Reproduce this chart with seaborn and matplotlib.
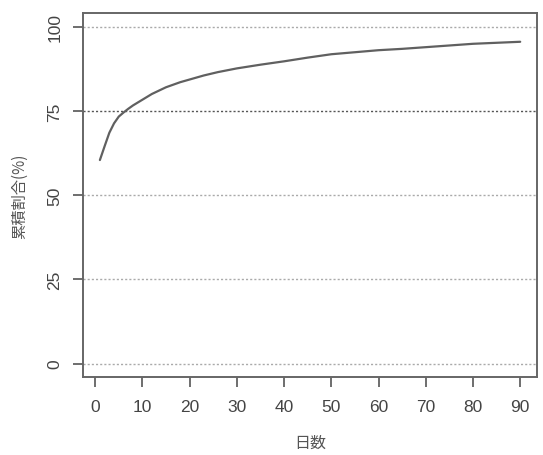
import matplotlib
matplotlib.use("Agg")
import matplotlib.pyplot as plt
import seaborn as sns
import pandas as pd

days = [1, 2, 3, 4, 5, 6, 7, 8, 10, 12, 15, 18, 20, 23, 26, 30, 35, 40, 45, 50,
        55, 60, 65, 70, 75, 80, 85, 90]
cum_pct = [60.4, 64.5, 68.5, 71.3, 73.3, 74.5, 75.6, 76.6, 78.3, 80.0, 82.0, 83.5,
           84.3, 85.5, 86.5, 87.6, 88.7, 89.7, 90.8, 91.8, 92.4, 93.0, 93.4, 93.9,
           94.4, 94.9, 95.2, 95.5]
x_ticks = [0, 10, 20, 30, 40, 50, 60, 70, 80, 90]
y_ticks = [0, 25, 50, 75, 100]

sns.set_style("white")
plt.rcParams['font.family'] = ['Liberation Sans', 'Noto Sans CJK JP', 'DejaVu Sans']

df = pd.DataFrame({"day": days, "pct": cum_pct})

fig = plt.figure(figsize=(5.43, 4.56), dpi=100)
ax = fig.add_axes([0.153, 0.171, 0.836, 0.798])

for v in y_ticks:
    col = "#555555" if v == 75 else "#aaaaaa"
    ax.axhline(v, color=col, linestyle=(0, (1.5, 1.5)), linewidth=1.0, zorder=1)

sns.lineplot(data=df, x="day", y="pct", ax=ax, color="#606060", linewidth=1.6, zorder=3)

ax.set_xlim(-2.56, 93.56)
ax.set_ylim(-4, 104)
ax.set_xticks(x_ticks)
ax.set_yticks(y_ticks)
ax.set_xticklabels([str(t) for t in x_ticks], fontsize=12.5, color="#444444")
ax.set_yticklabels([str(t) for t in y_ticks], fontsize=12.5, color="#444444",
                   rotation=90, va="center")
ax.tick_params(axis="both", direction="out", length=7, width=1.2, color="#555555",
               bottom=True, left=True)
ax.tick_params(axis="x", pad=9)
ax.tick_params(axis="y", pad=8)
for s in ax.spines.values():
    s.set_visible(True)
    s.set_color("#666666")
    s.set_linewidth(1.4)

ax.set_xlabel("日数", fontsize=11.5, color="#555555", labelpad=14,
              family=['Noto Sans CJK JP', 'DejaVu Sans'])
ax.set_ylabel("累積割合(%)", fontsize=11, color="#555555", labelpad=14,
              family=['Noto Sans CJK JP', 'DejaVu Sans'])

fig.savefig("out.png", dpi=100)
